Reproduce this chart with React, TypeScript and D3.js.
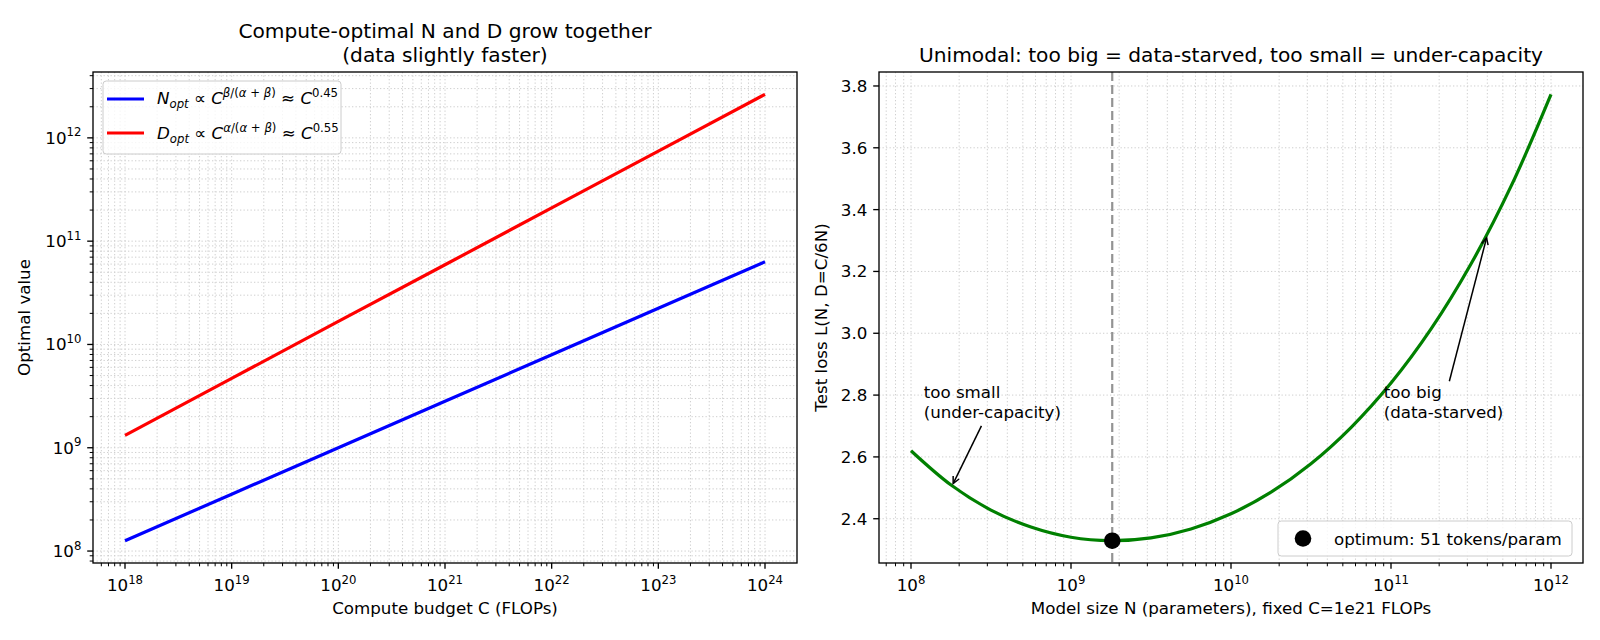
import React from 'react';
import * as d3 from 'd3';

// values
const COMPUTE = [1e18, 1e19, 1e20, 1e21, 1e22, 1e23, 1e24];
const N_OPT = [1.26e8, 3.55e8, 1.0e9, 2.82e9, 7.94e9, 2.24e10, 6.31e10];
const D_OPT = [1.32e9, 4.69e9, 1.67e10, 5.91e10, 2.1e11, 7.44e11, 2.64e12];

const MODEL_N = [1e8, 1.78e8, 3.16e8, 5.62e8, 1e9, 1.78e9, 3.16e9, 5.62e9, 1e10,
  1.78e10, 3.16e10, 5.62e10, 1e11, 1.78e11, 3.16e11, 5.62e11, 1e12];
const LOSS = [2.620, 2.509, 2.428, 2.373, 2.340, 2.329, 2.338, 2.367, 2.416,
  2.486, 2.578, 2.695, 2.839, 3.014, 3.224, 3.475, 3.773];

const OPT_N = 1.81e9;
const OPT_LOSS = 2.329;
const TOKENS_PER_PARAM = 51;
const LOSS_TICKS = [2.4, 2.6, 2.8, 3.0, 3.2, 3.4, 3.6, 3.8];

const ANNOTATIONS = [
  { lines: ['too small', '(under-capacity)'], at: [1.8e8, 2.505], text: [1.2e8, 2.79] },
  { lines: ['too big', '(data-starved)'], at: [4.0e11, 3.318], text: [9e10, 2.79] },
];

const W = 1600, H = 640;
const FONT = '"DejaVu Sans", sans-serif';
const FS = 16.7;
const SUP = 11.7;
const TITLE_FS = 20.2;
const GRID = '#b0b0b0';

const LEFT = { x0: 93, x1: 797, y0: 72, y1: 563 };
const RIGHT = { x0: 879, x1: 1583, y0: 72, y1: 563 };

const logPad = (vals: number[]) => {
  const lo = Math.log10(d3.min(vals)!), hi = Math.log10(d3.max(vals)!);
  const p = (hi - lo) * 0.05;
  return [10 ** (lo - p), 10 ** (hi + p)];
};

const logTicks = ([lo, hi]: number[]) => {
  const major: { v: number; e: number }[] = [], minor: number[] = [];
  for (let e = Math.floor(Math.log10(lo)); e <= Math.ceil(Math.log10(hi)); e++) {
    for (let m = 1; m < 10; m++) {
      const v = m * 10 ** e;
      if (v < lo * 0.9999 || v > hi * 1.0001) continue;
      if (m === 1) major.push({ v, e }); else minor.push(v);
    }
  }
  return { major, minor };
};

let ctx: CanvasRenderingContext2D | null = null;
const textWidth = (s: string) => {
  if (!ctx) ctx = document.createElement('canvas').getContext('2d');
  if (!ctx) return s.length * FS * 0.55;
  ctx.font = `${FS}px "DejaVu Sans"`;
  return ctx.measureText(s).width;
};

const Pow10 = ({ x, y, e, anchor }: any) => (
  <text x={x} y={y} textAnchor={anchor} fontSize={FS}>
    10<tspan fontSize={SUP} dy={-7.5}>{e}</tspan>
  </text>
);

const Grid = ({ box, xs, ys }: any) => (
  <g stroke={GRID} strokeWidth={1} strokeDasharray="1.3,2.2" opacity={0.6}>
    {xs.map((x: number, i: number) => <line key={'x' + i} x1={x} x2={x} y1={box.y0} y2={box.y1} />)}
    {ys.map((y: number, i: number) => <line key={'y' + i} x1={box.x0} x2={box.x1} y1={y} y2={y} />)}
  </g>
);

const Frame = ({ box }: any) => (
  <rect x={box.x0} y={box.y0} width={box.x1 - box.x0} height={box.y1 - box.y0}
    fill="none" stroke="#000" strokeWidth={1.33} />
);

const XTicks = ({ box, major, minor }: any) => (
  <g stroke="#000">
    {major.map((x: number, i: number) => <line key={'M' + i} x1={x} x2={x} y1={box.y1} y2={box.y1 + 5.8} strokeWidth={1.33} />)}
    {minor.map((x: number, i: number) => <line key={'m' + i} x1={x} x2={x} y1={box.y1} y2={box.y1 + 3.3} strokeWidth={1} />)}
  </g>
);

const YTicks = ({ box, major, minor }: any) => (
  <g stroke="#000">
    {major.map((y: number, i: number) => <line key={'M' + i} x1={box.x0 - 5.8} x2={box.x0} y1={y} y2={y} strokeWidth={1.33} />)}
    {minor.map((y: number, i: number) => <line key={'m' + i} x1={box.x0 - 3.3} x2={box.x0} y1={y} y2={y} strokeWidth={1} />)}
  </g>
);

const LeftPanel = () => {
  const box = LEFT;
  const x = d3.scaleLog().domain(logPad(COMPUTE)).range([box.x0, box.x1]);
  const y = d3.scaleLog().domain(logPad([...N_OPT, ...D_OPT])).range([box.y1, box.y0]);
  const xt = logTicks(x.domain());
  const yt = logTicks(y.domain());
  const line = d3.line<number>().x((_, i) => x(COMPUTE[i])).y(d => y(d));
  const cx = (box.x0 + box.x1) / 2;
  return (
    <g>
      <Grid box={box} xs={[...xt.major.map(t => x(t.v)), ...xt.minor.map(v => x(v))]}
        ys={[...yt.major.map(t => y(t.v)), ...yt.minor.map(v => y(v))]} />
      <path d={line(N_OPT)!} fill="none" stroke="blue" strokeWidth={3.2} />
      <path d={line(D_OPT)!} fill="none" stroke="red" strokeWidth={3.2} />
      <Frame box={box} />
      <XTicks box={box} major={xt.major.map(t => x(t.v))} minor={xt.minor.map(v => x(v))} />
      <YTicks box={box} major={yt.major.map(t => y(t.v))} minor={yt.minor.map(v => y(v))} />
      {xt.major.map(t => <Pow10 key={t.e} x={x(t.v)} y={591} e={t.e} anchor="middle" />)}
      {yt.major.map(t => <Pow10 key={t.e} x={box.x0 - 11.6} y={y(t.v) + 6} e={t.e} anchor="end" />)}
      <text x={cx} y={614} textAnchor="middle" fontSize={FS}>Compute budget C (FLOPs)</text>
      <text transform={`translate(30,${(box.y0 + box.y1) / 2}) rotate(-90)`} textAnchor="middle" fontSize={FS}>Optimal value</text>
      <text x={cx} y={38} textAnchor="middle" fontSize={TITLE_FS}>Compute-optimal N and D grow together</text>
      <text x={cx} y={62} textAnchor="middle" fontSize={TITLE_FS}>(data slightly faster)</text>
      {/* legend */}
      <rect x={103} y={81} width={238} height={73} rx={3.3} fill="#fff" fillOpacity={0.8} stroke="#cccccc" strokeWidth={1} />
      <line x1={107} x2={144} y1={99} y2={99} stroke="blue" strokeWidth={3.2} />
      <line x1={107} x2={144} y1={133} y2={133} stroke="red" strokeWidth={3.2} />
      <text x={157} y={104} fontSize={FS}>
        <tspan fontStyle="italic">N</tspan>
        <tspan fontStyle="italic" fontSize={SUP} dy={3.5}>opt</tspan>
        <tspan dy={-3.5}>{' ∝ '}</tspan>
        <tspan fontStyle="italic">C</tspan>
        <tspan fontSize={SUP} dy={-7.5}><tspan fontStyle="italic">β</tspan>/(<tspan fontStyle="italic">α</tspan> + <tspan fontStyle="italic">β</tspan>)</tspan>
        <tspan dy={7.5}>{' ≈ '}</tspan>
        <tspan fontStyle="italic">C</tspan>
        <tspan fontSize={SUP} dy={-7.5}>0.45</tspan>
      </text>
      <text x={157} y={139} fontSize={FS}>
        <tspan fontStyle="italic">D</tspan>
        <tspan fontStyle="italic" fontSize={SUP} dy={3.5}>opt</tspan>
        <tspan dy={-3.5}>{' ∝ '}</tspan>
        <tspan fontStyle="italic">C</tspan>
        <tspan fontSize={SUP} dy={-7.5}><tspan fontStyle="italic">α</tspan>/(<tspan fontStyle="italic">α</tspan> + <tspan fontStyle="italic">β</tspan>)</tspan>
        <tspan dy={7.5}>{' ≈ '}</tspan>
        <tspan fontStyle="italic">C</tspan>
        <tspan fontSize={SUP} dy={-7.5}>0.55</tspan>
      </text>
    </g>
  );
};

const Arrow = ({ x1, y1, x2, y2 }: any) => {
  const a = Math.atan2(y2 - y1, x2 - x1);
  const hl = 6.7, hw = 3.3;
  const p1 = [x2 - hl * Math.cos(a) + hw * Math.sin(a), y2 - hl * Math.sin(a) - hw * Math.cos(a)];
  const p2 = [x2 - hl * Math.cos(a) - hw * Math.sin(a), y2 - hl * Math.sin(a) + hw * Math.cos(a)];
  return (
    <g stroke="#000" strokeWidth={1.5} fill="none">
      <line x1={x1} y1={y1} x2={x2} y2={y2} />
      <polyline points={`${p1.join(',')} ${x2},${y2} ${p2.join(',')}`} />
    </g>
  );
};

const RightPanel = () => {
  const box = RIGHT;
  const x = d3.scaleLog().domain(logPad(MODEL_N)).range([box.x0, box.x1]);
  const lo = Math.min(d3.min(LOSS)!, OPT_LOSS), hi = d3.max(LOSS)!;
  const pad = (hi - lo) * 0.05;
  const y = d3.scaleLinear().domain([lo - pad, hi + pad]).range([box.y1, box.y0]);
  const xt = logTicks(x.domain());
  const line = d3.line<number>().x((_, i) => x(MODEL_N[i])).y(d => y(d)).curve(d3.curveCatmullRom.alpha(0.5));
  const cx = (box.x0 + box.x1) / 2;

  const notes = ANNOTATIONS.map(a => {
    const tx = x(a.text[0]), ty = y(a.text[1]);
    const w = d3.max(a.lines, textWidth)!;
    const top = ty - 14, bottom = ty + 20 + 5;
    const ccx = tx + w / 2, ccy = (top + bottom) / 2;
    const px = x(a.at[0]), py = y(a.at[1]);
    const dx = px - ccx, dy = py - ccy;
    const t = dy > 0 ? (bottom - ccy) / dy : (top - ccy) / dy;
    const len = Math.hypot(dx, dy);
    const sx = ccx + dx * t + (dx / len) * 3, sy = ccy + dy * t + (dy / len) * 3;
    const ex = px - (dx / len) * 3, ey = py - (dy / len) * 3;
    return { ...a, tx, ty, sx, sy, ex, ey };
  });

  return (
    <g>
      <Grid box={box} xs={[...xt.major.map(t => x(t.v)), ...xt.minor.map(v => x(v))]}
        ys={LOSS_TICKS.map(v => y(v))} />
      <line x1={x(OPT_N)} x2={x(OPT_N)} y1={box.y0} y2={box.y1} stroke="gray" strokeOpacity={0.85}
        strokeWidth={2.2} strokeDasharray="9,4" />
      <path d={line(LOSS)!} fill="none" stroke="green" strokeWidth={3.2} />
      <circle cx={x(OPT_N)} cy={y(OPT_LOSS)} r={8.3} fill="#000" />
      {notes.map((n, i) => (
        <g key={i}>
          <Arrow x1={n.sx} y1={n.sy} x2={n.ex} y2={n.ey} />
          {n.lines.map((s, j) => (
            <text key={j} x={n.tx} y={n.ty + j * 20} fontSize={FS}>{s}</text>
          ))}
        </g>
      ))}
      <Frame box={box} />
      <XTicks box={box} major={xt.major.map(t => x(t.v))} minor={xt.minor.map(v => x(v))} />
      <YTicks box={box} major={LOSS_TICKS.map(v => y(v))} minor={[]} />
      {xt.major.map(t => <Pow10 key={t.e} x={x(t.v)} y={591} e={t.e} anchor="middle" />)}
      {LOSS_TICKS.map(v => (
        <text key={v} x={box.x0 - 11.6} y={y(v) + 6} textAnchor="end" fontSize={FS}>{v.toFixed(1)}</text>
      ))}
      <text x={cx} y={614} textAnchor="middle" fontSize={FS}>Model size N (parameters), fixed C=1e21 FLOPs</text>
      <text transform={`translate(827,${(box.y0 + box.y1) / 2}) rotate(-90)`} textAnchor="middle" fontSize={FS}>Test loss L(N, D=C/6N)</text>
      <text x={cx} y={62} textAnchor="middle" fontSize={TITLE_FS}>Unimodal: too big = data-starved, too small = under-capacity</text>
      {/* legend */}
      <rect x={1278} y={521} width={294} height={35} rx={3.3} fill="#fff" fillOpacity={0.8} stroke="#cccccc" strokeWidth={1} />
      <circle cx={1303} cy={538.5} r={8.3} fill="#000" />
      <text x={1334} y={545} fontSize={FS}>optimum: {TOKENS_PER_PARAM} tokens/param</text>
    </g>
  );
};

export default function App() {
  return (
    <div style={{ width: W, height: H }}>
      <style>{'body{margin:0}'}</style>
      <svg width={W} height={H} style={{ display: 'block', background: '#fff' }} fontFamily={FONT}>
        <rect width={W} height={H} fill="#fff" />
        <LeftPanel />
        <RightPanel />
      </svg>
    </div>
  );
}
